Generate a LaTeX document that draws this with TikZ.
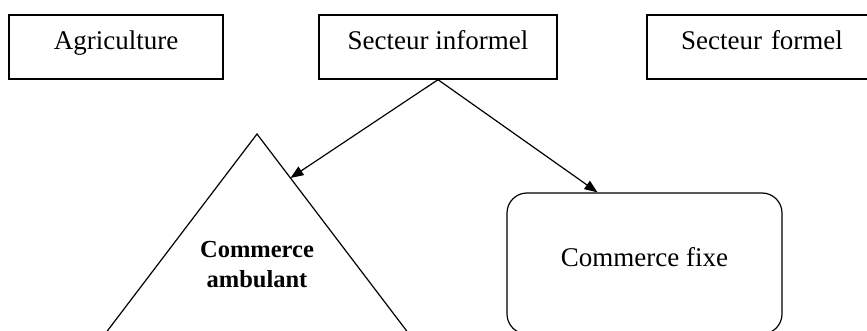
\documentclass[tikz,border=0pt]{standalone}
\usepackage{fontspec}
\setmainfont{Liberation Serif}
\usetikzlibrary{arrows.meta,calc}
\begin{document}
\begin{tikzpicture}[x=1pt,y=-1pt,
  sectorbox/.style={draw, line width=1.4pt, minimum height=64pt, inner sep=0pt,
    text height=14pt, text depth=8pt, font=\fontsize{27}{32}\selectfont},
  conn/.style={line width=1.2pt, -{Triangle[length=13pt,width=10pt]}},
  outline/.style={line width=1.2pt}]
\useasboundingbox (0,0) rectangle (867,331);
\clip (0,0) rectangle (867,331);
\node[sectorbox, minimum width=214pt] (agri) at (116,47) {Agriculture};
\node[sectorbox, minimum width=238pt] (informel) at (438,47) {Secteur informel};
\node[sectorbox, minimum width=230pt, text width=230pt, align=center] (formel) at (762,47) {Secteur formel};
% triangle
\coordinate (apex) at (257,134);
\coordinate (bl) at (105,334);
\coordinate (br) at (409,334);
\draw[outline] (bl) -- (apex) -- (br);
\node[font=\bfseries\fontsize{24.5}{30}\selectfont, align=center] (ambulant) at (257,265) {Commerce\\ambulant};
% rounded rectangle
\node[draw, outline, rounded corners=20pt, minimum width=275pt, minimum height=141pt,
  inner sep=0pt, text height=14pt, text depth=8pt, font=\fontsize{27}{32}\selectfont] (fixe) at (644.5,263.5) {Commerce fixe};
\coordinate (t1) at ($(apex)!0.22!(br)$);
\coordinate (t2) at ($(fixe.north west)!0.33!(fixe.north east)$);
\draw[conn] (informel.south) -- (t1);
\draw[conn] (informel.south) -- (t2);
\end{tikzpicture}
\end{document}
